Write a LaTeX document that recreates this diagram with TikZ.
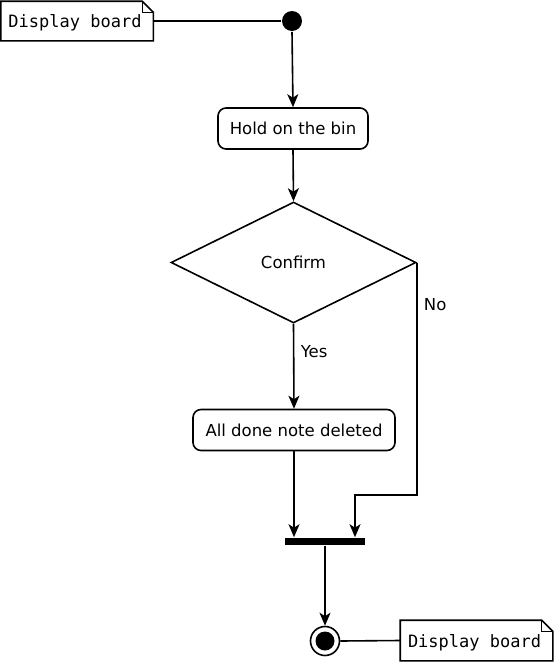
\documentclass[tikz,border=0pt]{standalone}
\usepackage{fontspec}
\setmainfont{DejaVu Sans}
\setmonofont{DejaVu Sans Mono}
\usetikzlibrary{shapes.geometric,arrows.meta}

\begin{document}
\begin{tikzpicture}[x=1pt,y=-1pt,line width=1.6pt,
        every node/.style={font=\fontsize{16.5}{19}\selectfont},
        flow/.style={-{Stealth[length=13pt,width=11pt,inset=3.5pt]}},
        action/.style={draw,rounded corners=8pt,minimum height=41pt,inner sep=0pt},
        notebox/.style={minimum width=151pt,minimum height=38pt,inner sep=0pt},
        notetext/.style={anchor=west,inner sep=0pt,font=\ttfamily\fontsize{17}{19}\selectfont}]
        \useasboundingbox (0,0) rectangle (554,662);

        \node[circle,fill,minimum size=20pt,inner sep=0pt] (start) at (292,21) {};
        \node[notebox] (note1) at (77,21) {};
        \node[action,minimum width=150pt] (hold) at (293,128.5) {Hold on the bin};
        \node[diamond,draw,minimum width=245pt,minimum height=121pt,inner sep=0pt] (confirm) at (293.5,262.5) {Confirm};
        \node[action,minimum width=202pt] (done) at (294,430) {All done note deleted};
        \node[rectangle,fill,minimum width=80pt,minimum height=7pt,inner sep=0pt] (bar) at (325,541.5) {};
        \node[circle,draw,minimum size=29pt,inner sep=0pt] (end) at (325,641) {};
        \node[notebox,minimum height=39pt] (note2) at (476.5,640.5) {};

        % dog-eared notes
        \foreach \n in {note1,note2} {
            \draw (\n.north west) -- ([xshift=-11pt]\n.north east) -- ([yshift=-11pt]\n.north east)
                -- (\n.south east) -- (\n.south west) -- cycle;
            \draw[line width=0.9pt] ([xshift=-11pt]\n.north east) -- ([xshift=-11pt,yshift=-11pt]\n.north east) -- ([yshift=-11pt]\n.north east);
            \node[notetext] at ([xshift=7pt,yshift=-2pt]\n.west) {Display board};
        }
        \fill (end.center) circle (9.5pt);

        \draw (note1.east) -- (start.west);
        \draw (end.east) -- (note2.west);
        \draw[flow] (start.south) -- (hold.north);
        \draw[flow] (hold.south) -- (confirm.north);
        \draw[flow] (confirm.south) -- node[pos=0.33,right=3pt] {Yes} (done.north);
        \draw[flow] (confirm.east) -- node[pos=0.18,right=3pt] {No} (confirm.east |- 0,495) -| ([xshift=30pt]bar.north);
        \draw[flow] (done.south) -- (done.south |- bar.north);
        \draw[flow] (bar.south) -- (end.north);
    \end{tikzpicture}
\end{document}
